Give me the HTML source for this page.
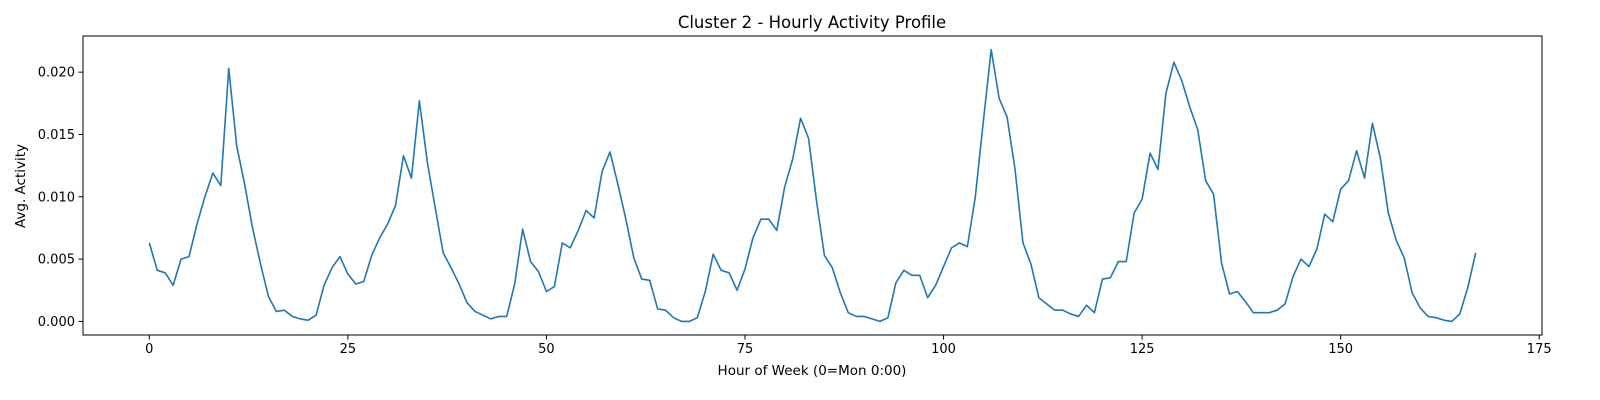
<!DOCTYPE html>
<html><head><meta charset="utf-8"><style>
body{margin:0;background:#fff;}
svg{display:block;font-family:"DejaVu Sans","Liberation Sans",sans-serif;}
</style></head><body>
<svg id="chart" width="1600" height="400" xmlns="http://www.w3.org/2000/svg">
<rect width="1600" height="400" fill="#fff"/>
<text x="812" y="28" font-size="16.5" text-anchor="middle" fill="#000">Cluster 2 - Hourly Activity Profile</text>
<g id="xt"></g><g id="yt"></g>
<polyline id="line" fill="none" stroke="#1f77b4" stroke-width="1.6" stroke-linejoin="round"/>
<rect x="83" y="36" width="1459" height="299" fill="none" stroke="#000" stroke-width="1"/>
<text x="812" y="375" font-size="13.5" text-anchor="middle">Hour of Week (0=Mon 0:00)</text>
<text x="0" y="0" font-size="13.5" text-anchor="middle" transform="translate(25,186) rotate(-90)">Avg. Activity</text>
</svg>
<script>
const values=[.0063,.0041,.0039,.0029,.0050,.0052,.0078,.0100,.0119,.0109,.0203,.0141,.0110,.0075,.0046,.0020,.0008,.0009,.0004,.0002,.0001,.0005,.0029,.0043,.0052,.0038,.0030,.0032,.0053,.0067,.0078,.0093,.0133,.0115,.0177,.0128,.0091,.0055,.0043,.0030,.0015,.0008,.0005,.0002,.0004,.0004,.0030,.0074,.0048,.0040,.0024,.0028,.0063,.0059,.0073,.0089,.0083,.0120,.0136,.0110,.0082,.0051,.0034,.0033,.0010,.0009,.0003,.0000,.0000,.0003,.0024,.0054,.0041,.0039,.0025,.0042,.0067,.0082,.0082,.0073,.0108,.0130,.0163,.0147,.0097,.0053,.0043,.0023,.0007,.0004,.0004,.0002,.0000,.0003,.0031,.0041,.0037,.0037,.0019,.0029,.0044,.0059,.0063,.0060,.0100,.0160,.0218,.0179,.0164,.0122,.0063,.0046,.0019,.0014,.0009,.0009,.0006,.0004,.0013,.0007,.0034,.0035,.0048,.0048,.0087,.0098,.0135,.0122,.0183,.0208,.0193,.0172,.0154,.0113,.0102,.0047,.0022,.0024,.0016,.0007,.0007,.0007,.0009,.0014,.0036,.0050,.0044,.0058,.0086,.0080,.0106,.0113,.0137,.0115,.0159,.0131,.0087,.0065,.0051,.0023,.0011,.0004,.0003,.0001,.0000,.0006,.0027,.0055];
const xTicks=[0,25,50,75,100,125,150,175];
const yTicks=[0,0.005,0.010,0.015,0.020];
const yTickLabels=["0.000","0.005","0.010","0.015","0.020"];
const L=83,R=1542,T=36,B=335;
const xmin=-8.35,xmax=175.35,ymin=-0.00109,ymax=0.0229;
function sx(v){return L+(v-xmin)/(xmax-xmin)*(R-L);}
function sy(v){return B-(v-ymin)/(ymax-ymin)*(B-T);}
const NS="http://www.w3.org/2000/svg";
document.getElementById('line').setAttribute('points',values.map((v,i)=>sx(i).toFixed(2)+','+sy(v).toFixed(2)).join(' '));
const xg=document.getElementById('xt');
xTicks.forEach(t=>{
 const l=document.createElementNS(NS,'line');
 
 
 l.setAttribute('x1',sx(t));l.setAttribute('x2',sx(t));l.setAttribute('y1',B);l.setAttribute('y2',B+4.5);l.setAttribute('stroke','#000');
 xg.appendChild(l);
 const tx=document.createElementNS(NS,'text');
 
 
 tx.setAttribute('x',sx(t));tx.setAttribute('y',B+18);tx.setAttribute('font-size','13');tx.setAttribute('text-anchor','middle');
 tx.textContent=t;xg.appendChild(tx);
});
const yg=document.getElementById('yt');
yTicks.forEach((t,i)=>{
 const l=document.createElementNS(NS,'line');
 
 
 l.setAttribute('x1',L-4.5);l.setAttribute('x2',L);l.setAttribute('y1',sy(t));l.setAttribute('y2',sy(t));l.setAttribute('stroke','#000');
 yg.appendChild(l);
 const tx=document.createElementNS(NS,'text');
 
 
 tx.setAttribute('x',L-8);tx.setAttribute('y',sy(t)+4.5);tx.setAttribute('font-size','13');tx.setAttribute('text-anchor','end');
 tx.textContent=yTickLabels[i];yg.appendChild(tx);
});
</script>
</body></html>
